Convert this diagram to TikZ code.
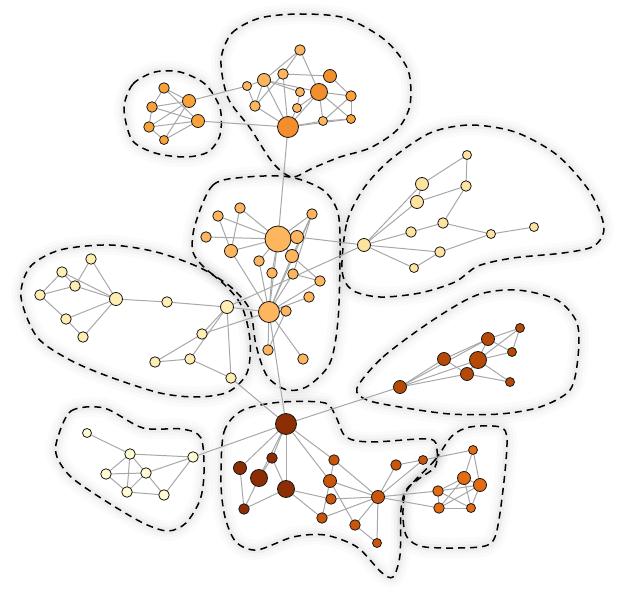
\documentclass[tikz,border=0pt]{standalone}
\usetikzlibrary{calc}
\pgfdeclarelayer{bg}
\pgfdeclarelayer{hl}
\pgfsetlayers{hl,bg,main}
\definecolor{ctl}{HTML}{F9A23A}
\definecolor{ctd}{HTML}{F28E2B}
\definecolor{ctlt}{HTML}{FDB55E}
\definecolor{ccen}{HTML}{FDB55E}
\definecolor{crt}{HTML}{FEE3A0}
\definecolor{clf}{HTML}{FFEEB2}
\definecolor{cbl}{HTML}{FFFBD3}
\definecolor{crm}{HTML}{B54A06}
\definecolor{cbd}{HTML}{8C2D04}
\definecolor{cbo}{HTML}{C9560A}
\definecolor{cbr}{HTML}{E36C12}
\definecolor{edgec}{HTML}{A8A8A8}
\tikzset{
  nd/.style={circle,draw=black!90,line width=0.8pt,inner sep=0pt},
  szS/.style={minimum size=9pt},
  szM/.style={minimum size=10.5pt},
  szL/.style={minimum size=13pt},
  szXL/.style={minimum size=17pt},
  szXXL/.style={minimum size=21pt},
  szH/.style={minimum size=26pt},
  edge/.style={draw=edgec,line width=1pt},
  hull/.style={draw=black,line width=1.5pt,dash pattern=on 7pt off 5pt,
    preaction={draw=black,line width=20pt,opacity=0.015,solid},
    preaction={draw=black,line width=13pt,opacity=0.02,solid},
    preaction={draw=black,line width=7pt,opacity=0.03,solid}}
}
\begin{document}
\begin{tikzpicture}[x=1pt,y=-1pt]
\useasboundingbox (0,0) rectangle (622,596);
\begin{pgfonlayer}{hl}
\fill[white] (0,0) rectangle (622,596);
\draw[hull] plot[smooth cycle] coordinates {(124,108) (133,84) (155,72) (180,72) (205,84) (220,108) (220,135) (208,152) (185,157) (155,153) (132,140)};
\draw[hull] plot[smooth cycle] coordinates {(221,60) (232,33) (260,18) (300,14) (345,18) (385,40) (408,70) (410,105) (397,130) (370,148) (340,157) (313,168) (292,177) (273,163) (250,128) (228,98)};
\draw[hull] plot[smooth cycle] coordinates {(195,225) (213,185) (247,177) (290,177) (323,190) (338,213) (340,255) (338,320) (330,363) (308,386) (287,390) (267,376) (256,345) (250,310) (232,288) (207,270) (193,252)};
\draw[hull] plot[smooth cycle] coordinates {(342,270) (347,222) (364,188) (390,160) (430,133) (470,125) (515,132) (557,155) (590,192) (604,227) (594,246) (563,253) (513,258) (478,266) (455,282) (420,293) (380,297) (352,290)};
\draw[hull] plot[smooth cycle] coordinates {(21,297) (30,267) (60,250) (110,245) (160,253) (210,273) (240,303) (250,340) (247,373) (228,392) (197,397) (160,393) (110,377) (70,360) (37,337)};
\draw[hull] plot[smooth cycle] coordinates {(357,388) (383,357) (433,320) (477,295) (517,290) (557,300) (577,323) (578,357) (570,390) (540,407) (500,414) (450,414) (400,407) (367,400)};
\draw[hull] plot[smooth cycle] coordinates {(57,440) (71,411) (104,408) (143,428) (182,429) (201,438) (204,473) (200,500) (186,523) (168,531) (143,523) (104,500) (71,477) (57,457)};
\draw[hull] plot[smooth cycle] coordinates {(221,483) (224,432) (243,410) (282,402) (325,403) (336,417) (346,437) (371,442) (429,439) (437,450) (435,467) (420,478) (406,490) (401,510) (400,555) (393,577) (381,572) (357,547) (325,535) (293,537) (257,550) (236,542) (225,517)};
\draw[hull] plot[smooth cycle] coordinates {(407,490) (435,460) (452,436) (470,427) (500,427) (507,440) (503,490) (495,537) (479,547) (425,547) (407,537) (403,515)};
\end{pgfonlayer}
% nodes: top-left
\node[nd,szM,fill=ctl] (a1) at (164,88) {};
\node[nd,szL,fill=ctl] (a2) at (189,101) {};
\node[nd,szM,fill=ctl] (a3) at (152,107) {};
\node[nd,szL,fill=ctl] (a4) at (198,121) {};
\node[nd,szM,fill=ctl] (a5) at (149,127) {};
\node[nd,szS,fill=ctl] (a6) at (164,140) {};
% top
\node[nd,szM,fill=ctlt] (b1) at (300,50) {};
\node[nd,szM,fill=ctlt] (b2) at (283,74) {};
\node[nd,szL,fill=ctlt] (b3) at (264,80) {};
\node[nd,szL,fill=ctd] (b4) at (330,76) {};
\node[nd,szS,fill=ctlt] (b5) at (247,86) {};
\node[nd,szS,fill=ctlt] (b6) at (300,92) {};
\node[nd,szXL,fill=ctd] (b7) at (319,92) {};
\node[nd,szM,fill=ctl] (b8) at (351,96) {};
\node[nd,szM,fill=ctlt] (b9) at (255,106) {};
\node[nd,szS,fill=ctlt] (b10) at (297,108) {};
\node[nd,szS,fill=ctlt] (b11) at (323,121) {};
\node[nd,szS,fill=ctl] (b12) at (351,119) {};
\node[nd,szXXL,fill=ctd] (b13) at (288,127) {};
% central
\node[nd,szM,fill=ccen] (c1) at (240,208) {};
\node[nd,szM,fill=ccen] (c2) at (218,216) {};
\node[nd,szM,fill=ccen] (c3) at (312,214) {};
\node[nd,szM,fill=ccen] (c4) at (206,237) {};
\node[nd,szH,fill=ccen] (c5) at (278,239) {};
\node[nd,szL,fill=ccen] (c6) at (297,237) {};
\node[nd,szL,fill=ccen] (c7) at (231,251) {};
\node[nd,szL,fill=ccen] (c8) at (292,256) {};
\node[nd,szM,fill=ccen] (c9) at (259,261) {};
\node[nd,szM,fill=ccen] (c10) at (272,273) {};
\node[nd,szM,fill=ccen] (c11) at (293,274) {};
\node[nd,szM,fill=ccen] (c12) at (320,281) {};
\node[nd,szM,fill=ccen] (c13) at (309,297) {};
\node[nd,szXXL,fill=ccen] (c14) at (269,312) {};
\node[nd,szM,fill=ccen] (c15) at (286,311) {};
\node[nd,szM,fill=ccen] (c16) at (268,350) {};
\node[nd,szM,fill=ccen] (c17) at (303,359) {};
% right
\node[nd,szS,fill=crt] (d1) at (467,155) {};
\node[nd,szL,fill=crt] (d2) at (422,184) {};
\node[nd,szM,fill=crt] (d3) at (466,186) {};
\node[nd,szL,fill=crt] (d4) at (417,202) {};
\node[nd,szM,fill=crt] (d5) at (443,223) {};
\node[nd,szM,fill=crt] (d6) at (411,232) {};
\node[nd,szL,fill=crt] (d7) at (364,245) {};
\node[nd,szS,fill=crt] (d8) at (491,234) {};
\node[nd,szS,fill=crt] (d9) at (534,227) {};
\node[nd,szM,fill=crt] (d10) at (440,252) {};
\node[nd,szS,fill=crt] (d11) at (414,268) {};
% left
\node[nd,szM,fill=clf] (e1) at (91,259) {};
\node[nd,szM,fill=clf] (e2) at (62,272) {};
\node[nd,szM,fill=clf] (e3) at (75,286) {};
\node[nd,szM,fill=clf] (e4) at (40,295) {};
\node[nd,szL,fill=clf] (e5) at (116,299) {};
\node[nd,szM,fill=clf] (e6) at (167,302) {};
\node[nd,szL,fill=clf] (e7) at (227,307) {};
\node[nd,szM,fill=clf] (e8) at (66,319) {};
\node[nd,szM,fill=clf] (e9) at (83,337) {};
\node[nd,szM,fill=clf] (e10) at (202,334) {};
\node[nd,szM,fill=clf] (e11) at (190,359) {};
\node[nd,szM,fill=clf] (e12) at (155,362) {};
\node[nd,szM,fill=clf] (e13) at (231,378) {};
% right-middle
\node[nd,szS,fill=crm] (f1) at (520,328) {};
\node[nd,szL,fill=crm] (f2) at (488,339) {};
\node[nd,szS,fill=crm] (f3) at (512,352) {};
\node[nd,szL,fill=crm] (f4) at (444,359) {};
\node[nd,szXL,fill=crm] (f5) at (478,360) {};
\node[nd,szL,fill=crm] (f6) at (467,374) {};
\node[nd,szS,fill=crm] (f7) at (510,382) {};
\node[nd,szL,fill=crm] (f8) at (400,387) {};
% bottom-left
\node[nd,szS,fill=cbl] (g1) at (87,433) {};
\node[nd,szM,fill=cbl] (g2) at (130,454) {};
\node[nd,szM,fill=cbl] (g3) at (193,457) {};
\node[nd,szM,fill=cbl] (g4) at (106,474) {};
\node[nd,szM,fill=cbl] (g5) at (146,473) {};
\node[nd,szM,fill=cbl] (g6) at (127,492) {};
\node[nd,szM,fill=cbl] (g7) at (164,495) {};
% bottom centre
\node[nd,szXXL,fill=cbd] (h1) at (286,424) {};
\node[nd,szM,fill=cbd] (h2) at (272,458) {};
\node[nd,szL,fill=cbd] (h3) at (240,468) {};
\node[nd,szXL,fill=cbd] (h4) at (259,478) {};
\node[nd,szXL,fill=cbd] (h5) at (286,489) {};
\node[nd,szM,fill=cbd] (h6) at (244,509) {};
\node[nd,szM,fill=cbo] (i1) at (334,460) {};
\node[nd,szL,fill=cbo] (i2) at (330,481) {};
\node[nd,szM,fill=cbo] (i3) at (331,499) {};
\node[nd,szM,fill=cbo] (i4) at (322,518) {};
\node[nd,szL,fill=cbo] (i5) at (378,497) {};
\node[nd,szM,fill=cbo] (i6) at (355,525) {};
\node[nd,szS,fill=cbo] (i7) at (377,543) {};
\node[nd,szM,fill=cbo] (i8) at (396,465) {};
\node[nd,szS,fill=cbo] (i9) at (423,460) {};
% bottom-right
\node[nd,szS,fill=cbr] (j1) at (473,450) {};
\node[nd,szL,fill=cbr] (j2) at (464,478) {};
\node[nd,szL,fill=cbr] (j3) at (480,485) {};
\node[nd,szM,fill=cbr] (j4) at (438,491) {};
\node[nd,szM,fill=cbr] (j5) at (439,508) {};
\node[nd,szS,fill=cbr] (j6) at (471,508) {};
% edges
\begin{pgfonlayer}{bg}
\foreach \u/\v in {a1/a2,a1/a3,a1/a4,a3/a2,a3/a4,a3/a5,a5/a2,a5/a4,a5/a6,a6/a2,a6/a4,a2/b5,a4/b13,
 b1/b3,b1/b2,b1/b7,b2/b4,b3/b5,b3/b9,b3/b6,b3/b7,b3/b13,b2/b13,b5/b9,b9/b2,b6/b10,b7/b10,b7/b13,b7/b8,b7/b12,b7/b11,b4/b8,b8/b12,b8/b11,b11/b12,b11/b13,b13/b12,b13/b9,b13/b10,
 b13/c5,c1/c5,c1/c7,c2/c7,c2/c5,c4/c5,c7/c5,c7/c14,c3/c5,c3/c8,c3/c14,c3/c11,c5/c6,c6/d7,c5/c9,c5/c8,c5/c14,c5/c10,c9/c14,c10/c14,c8/c14,c11/c14,c11/c12,c8/c12,c12/c14,c13/c14,c14/c15,c15/c16,c14/c16,c14/c17,c14/h1,
 e1/e3,e1/e5,e2/e3,e2/e4,e2/e5,e4/e3,e3/e5,e4/e8,e8/e5,e8/e9,e9/e5,e5/e6,e6/e7,e7/e10,e7/e11,e7/e13,e10/e12,e12/e11,e11/e13,e10/c14,e7/c14,e7/d7,e13/h1,
 d1/d2,d1/d3,d3/d4,d3/d5,d7/d2,d7/d4,d7/d6,d6/d5,d5/d8,d8/d9,d7/d10,d10/d8,d7/d11,d11/d10,d2/d4,
 f8/f4,f8/f5,f8/f6,f8/f2,f4/f2,f4/f6,f2/f1,f2/f3,f2/f5,f1/f5,f1/f3,f5/f3,f5/f6,f6/f7,f5/f7,f8/h1,
 g1/g2,g2/g3,g2/g4,g2/g6,g2/g5,g4/g5,g4/g6,g5/g6,g5/g7,g6/g7,g5/g3,g7/g3,g3/h1,
 h1/h2,h1/h3,h1/h4,h1/h5,h1/i1,h1/i2,h2/h4,h2/h5,h3/h6,h4/h6,h6/h5,i1/i2,i1/i5,i2/i5,i2/i4,i2/i6,h5/i3,h5/i4,i3/i5,i4/i5,i5/i6,i5/i7,i6/i7,i5/i8,i5/i9,i8/i9,i9/j1,i5/j4,i5/j5,
 j1/j2,j1/j3,j2/j4,j2/j5,j2/j6,j2/j3,j3/j4,j3/j5,j3/j6,j4/j5,j4/j6,j5/j6}
 \draw[edge] (\u.center) -- (\v.center);
\end{pgfonlayer}
\end{tikzpicture}
\end{document}
